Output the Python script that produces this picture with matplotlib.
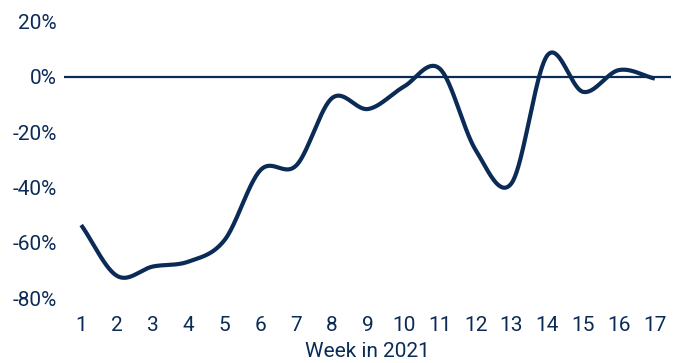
import numpy as np
import matplotlib
matplotlib.use("Agg")
import matplotlib.pyplot as plt
import matplotlib.ticker as mticker

# weekly change vs. reference, in percent
weeks = list(range(1, 18))
change_pct = [-53.6, -72.0, -68.6, -66.8, -59.0, -33.7, -32.0, -7.6, -11.6,
              -3.5, 3.0, -26.4, -38.5, 7.8, -5.4, 2.5, -0.6]
y_ticks = [-80, -60, -40, -20, 0, 20]

NAVY = "#0b2b57"


def smooth_curve(x, y, steps=40):
    """Catmull-Rom spline through the points, like a spreadsheet 'smoothed line'."""
    x = np.asarray(x, dtype=float)
    y = np.asarray(y, dtype=float)
    px = np.concatenate([[2 * x[0] - x[1]], x, [2 * x[-1] - x[-2]]])
    py = np.concatenate([[2 * y[0] - y[1]], y, [2 * y[-1] - y[-2]]])
    xs, ys = [], []
    t = np.linspace(0, 1, steps, endpoint=False)
    for i in range(1, len(px) - 2):
        for arr, out in ((px, xs), (py, ys)):
            p0, p1, p2, p3 = arr[i - 1], arr[i], arr[i + 1], arr[i + 2]
            out.append(0.5 * (2 * p1 + (-p0 + p2) * t
                              + (2 * p0 - 5 * p1 + 4 * p2 - p3) * t ** 2
                              + (-p0 + 3 * p1 - 3 * p2 + p3) * t ** 3))
    xs.append([x[-1]])
    ys.append([y[-1]])
    return np.concatenate(xs), np.concatenate(ys)


plt.rcParams["font.family"] = ["Liberation Sans Narrow", "Roboto", "DejaVu Sans"]

fig = plt.figure(figsize=(6.78, 3.63), dpi=100)
ax = fig.add_axes([64 / 678, 1 - 298 / 363, (671 - 64) / 678, (298 - 21.7) / 363])

sx, sy = smooth_curve(weeks, change_pct)
ax.axhline(0, color=NAVY, linewidth=1.6, zorder=1)
ax.plot(sx, sy, color=NAVY, linewidth=3.0, solid_capstyle="butt", zorder=2)

ax.set_xlim(0.52, 17.45)
ax.set_ylim(-80, 20)
ax.set_xticks(weeks)
ax.set_yticks(y_ticks)
ax.yaxis.set_major_formatter(mticker.FuncFormatter(lambda v, _: f"{v:.0f}%"))
ax.tick_params(length=0, labelsize=15, labelcolor=NAVY)
ax.tick_params(axis="y", pad=5)
ax.tick_params(axis="x", pad=13)
for spine in ax.spines.values():
    spine.set_visible(False)

ax.set_xlabel("Week in 2021", color=NAVY, fontsize=15, labelpad=5)

fig.savefig("out.png", dpi=100, facecolor="white")
